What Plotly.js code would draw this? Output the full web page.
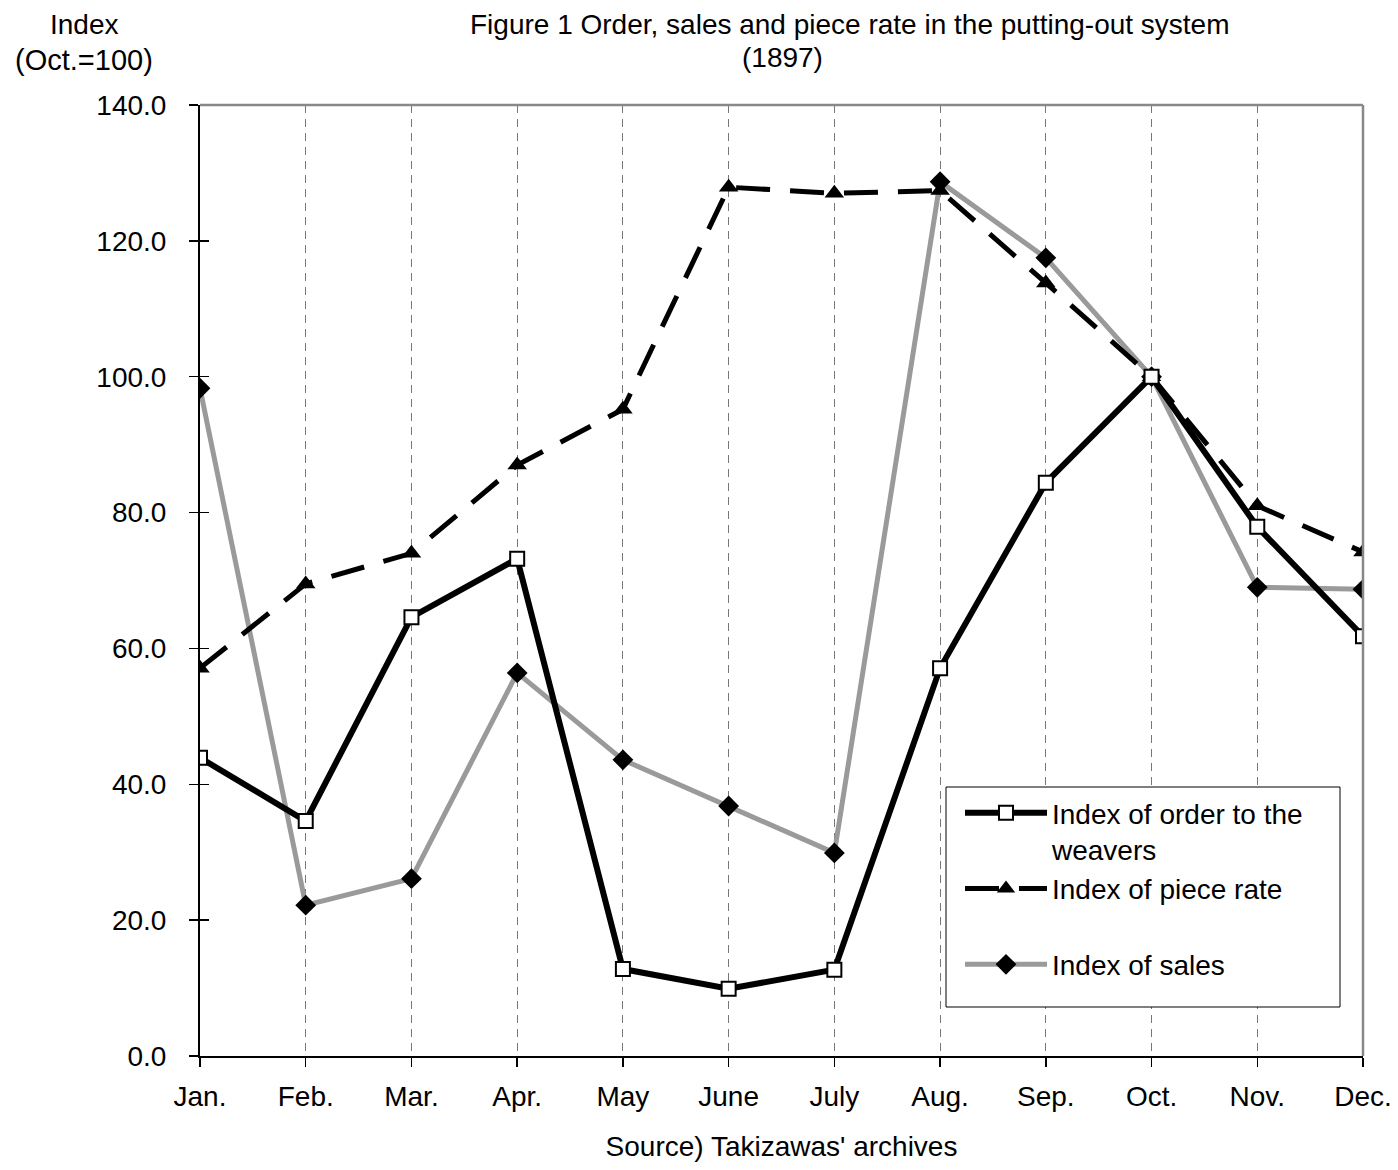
<!DOCTYPE html>
<html>
<head>
<meta charset="utf-8">
<script src="https://cdn.plot.ly/plotly-3.0.1.min.js"></script>
<style>html,body{margin:0;padding:0;background:#fff;}#chart{width:1398px;height:1170px;}</style>
</head>
<body>
<div id="chart"></div>
<script>
const months = ["Jan.","Feb.","Mar.","Apr.","May","June","July","Aug.","Sep.","Oct.","Nov.","Dec."];
const orderIndex = [43.9, 34.6, 64.6, 73.2, 12.8, 9.9, 12.7, 57.1, 84.4, 100.0, 77.9, 61.8];
const pieceRateIndex = [57.1, 69.5, 74.0, 87.0, 95.2, 127.9, 127.0, 127.4, 113.8, 100.0, 81.0, 74.2];
const salesIndex = [98.3, 22.2, 26.1, 56.4, 43.6, 36.8, 29.9, 128.7, 117.5, 100.0, 69.0, 68.7];
const yTicks = [0, 20, 40, 60, 80, 100, 120, 140];
const yTickText = ["0.0","20.0","40.0","60.0","80.0","100.0","120.0","140.0"];

const FONT = "Liberation Sans, Arial, sans-serif";
const FS = 28;

const traces = [
  {
    // invisible helper so the inner half of the crossing y ticks is drawn
    x: months, y: orderIndex, type: "scatter", mode: "markers", yaxis: "y2",
    marker: {opacity: 0}, showlegend: false, hoverinfo: "skip"
  },
  {
    x: months, y: salesIndex, type: "scatter", mode: "lines+markers",
    name: "Index of sales", legendrank: 3,
    line: {color: "#9a9a9a", width: 5},
    marker: {symbol: "diamond", size: 16, color: "#000"}
  },
  {
    x: months, y: pieceRateIndex, type: "scatter", mode: "lines+markers",
    name: "Index of piece rate<br> ", legendrank: 2,
    line: {color: "#000", width: 5, dash: "34px,20px"},
    marker: {symbol: "triangle-up", size: 17, color: "#000"}
  },
  {
    x: months, y: orderIndex, type: "scatter", mode: "lines+markers",
    name: "Index of order to the<br>weavers", legendrank: 1,
    line: {color: "#000", width: 6},
    marker: {symbol: "square", size: 14, color: "#fff", line: {color: "#000", width: 2}}
  }
];

const px = v => (v - 200) / 1163;
const py = v => (1056 - v) / 951;

const layout = {
  width: 1398, height: 1170,
  margin: {l: 200, r: 35, t: 105, b: 114},
  paper_bgcolor: "#fff", plot_bgcolor: "#fff",
  font: {family: FONT, size: FS, color: "#000"},
  showlegend: true,
  legend: {
    x: px(960), y: py(788), xanchor: "left", yanchor: "top",
    borderwidth: 0, bgcolor: "rgba(0,0,0,0)",
    font: {family: FONT, size: 28, color: "#000"},
    valign: "top", itemwidth: 82, tracegroupgap: 0,
    traceorder: "normal"
  },
  xaxis: {
    type: "category", range: [0, 11],
    showgrid: true, gridcolor: "#777", gridwidth: 1, griddash: "8px,6px",
    showline: true, linecolor: "#000", linewidth: 2,
    ticks: "outside", ticklen: 9, tickcolor: "#000", tickwidth: 1.5,
    ticklabelstandoff: 5,
    tickfont: {family: FONT, size: FS, color: "#000"},
    zeroline: false,
    title: {text: "Source) Takizawas' archives", font: {family: FONT, size: FS, color: "#000"}, standoff: 26}
  },
  yaxis: {
    range: [0, 140],
    tickvals: yTicks, ticktext: yTickText,
    showgrid: false, zeroline: false,
    showline: true, linecolor: "#000", linewidth: 2,
    ticks: "outside", ticklen: 9, tickcolor: "#000", tickwidth: 1.5,
    ticklabelstandoff: 17,
    tickfont: {family: FONT, size: FS, color: "#000"}
  },
  yaxis2: {
    overlaying: "y", side: "left", anchor: "x",
    range: [0, 140], tickvals: yTicks,
    showticklabels: false, showgrid: false, zeroline: false, showline: false,
    ticks: "inside", ticklen: 9, tickcolor: "#000", tickwidth: 1.5
  },
  shapes: [
    {type: "line", xref: "paper", yref: "paper", x0: 0, x1: 1, y0: 1, y1: 1, line: {color: "#888", width: 2.5}},
    {type: "line", xref: "paper", yref: "paper", x0: 1, x1: 1, y0: 0, y1: 1, line: {color: "#888", width: 2.5}},
    {type: "rect", xref: "paper", yref: "paper", x0: px(946), x1: px(1340), y0: py(1007), y1: py(787),
     line: {color: "#000", width: 1}, fillcolor: "#fff", layer: "above"}
  ],
  annotations: [
    {text: "Figure 1 Order, sales and piece rate in the putting-out system", xref: "paper", yref: "paper",
     x: px(850), y: py(24), xanchor: "center", yanchor: "middle", showarrow: false,
     font: {family: FONT, size: FS, color: "#000"}},
    {text: "(1897)", xref: "paper", yref: "paper",
     x: px(782), y: py(57), xanchor: "center", yanchor: "middle", showarrow: false,
     font: {family: FONT, size: FS, color: "#000"}},
    {text: "Index", xref: "paper", yref: "paper",
     x: px(84), y: py(24), xanchor: "center", yanchor: "middle", showarrow: false,
     font: {family: FONT, size: FS, color: "#000"}},
    {text: "(Oct.=100)", xref: "paper", yref: "paper",
     x: px(84), y: py(60), xanchor: "center", yanchor: "middle", showarrow: false,
     font: {family: FONT, size: 29, color: "#000"}}
  ]
};

Plotly.newPlot("chart", traces, layout, {displayModeBar: false, staticPlot: true});
</script>
</body>
</html>
